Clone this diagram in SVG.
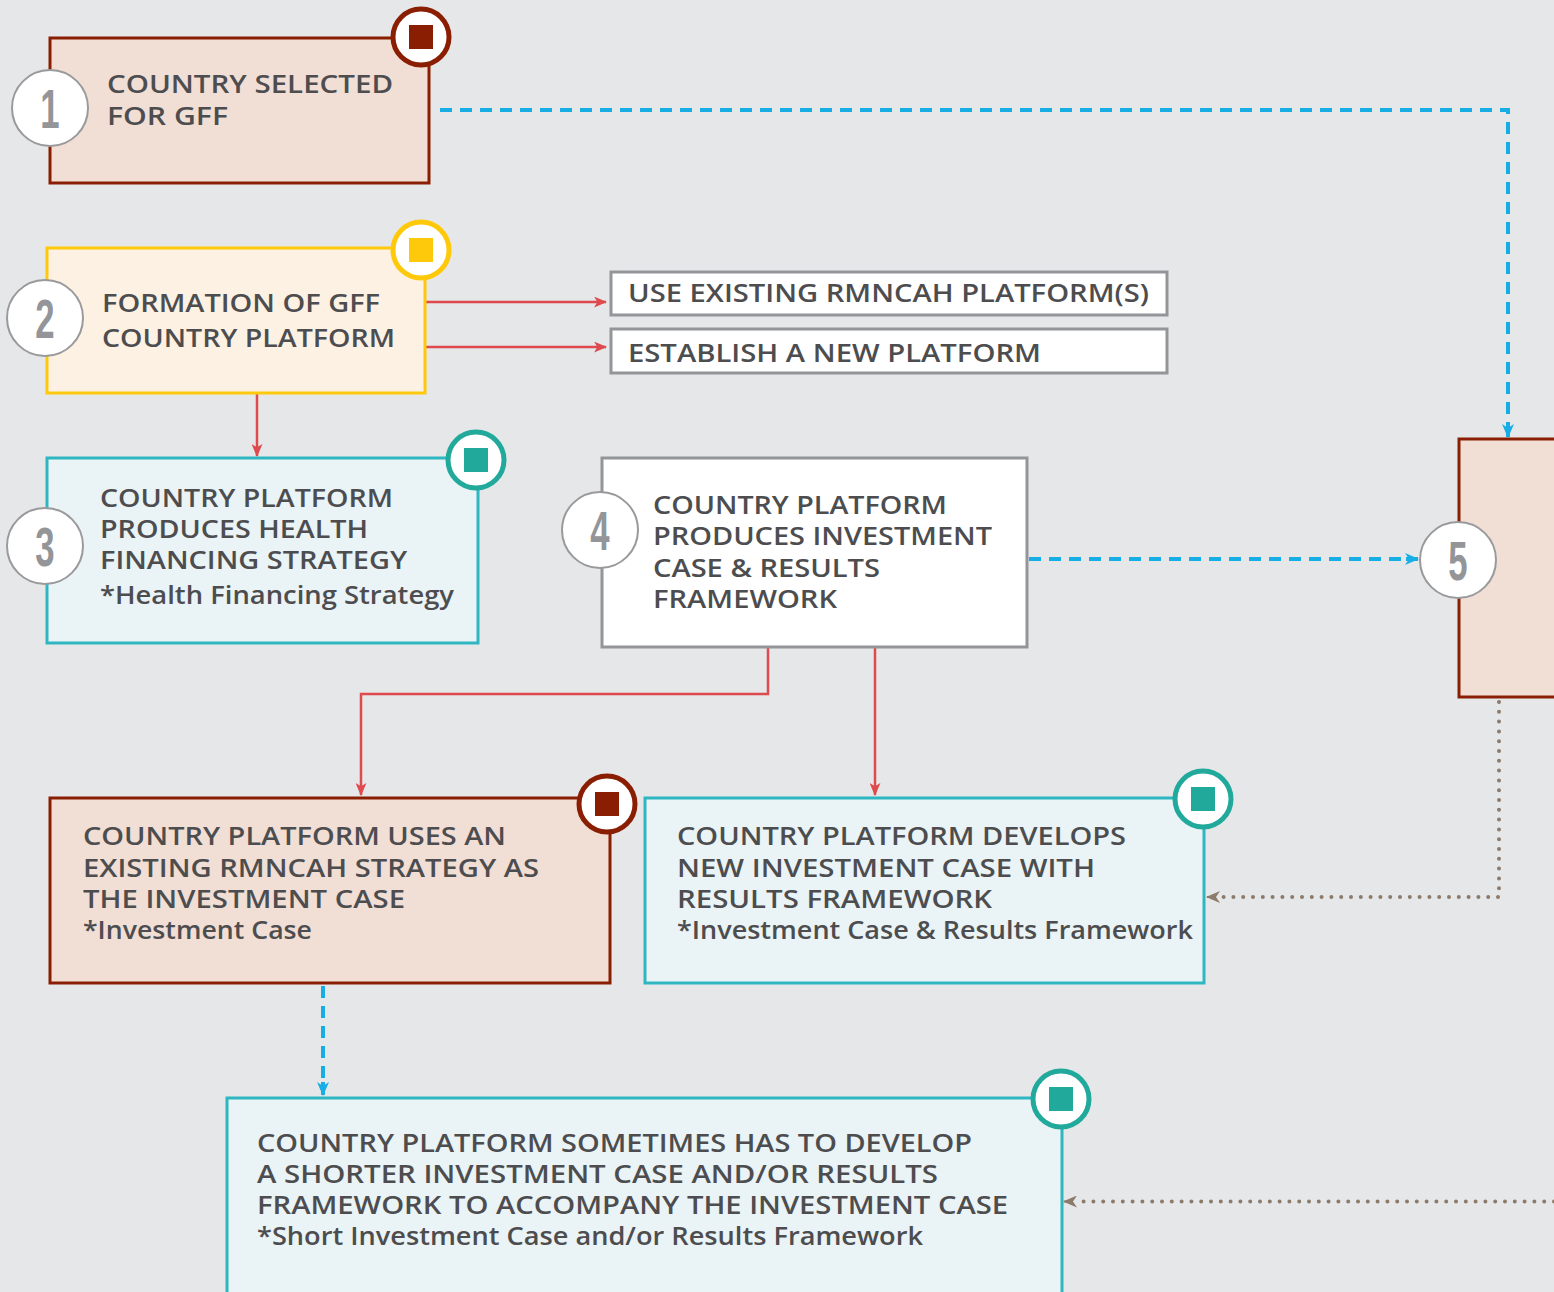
<svg xmlns="http://www.w3.org/2000/svg" width="1554" height="1292" viewBox="0 0 1554 1292">
<defs>
<marker id="arR" viewBox="0 0 12 10" refX="11" refY="5" markerWidth="13" markerHeight="11" markerUnits="userSpaceOnUse" orient="auto">
<path d="M0,0 L12,5 L0,10 L3,5 Z" fill="#de4a4d"/>
</marker>
<marker id="arB" viewBox="0 0 14 12" refX="13" refY="6" markerWidth="14" markerHeight="12" markerUnits="userSpaceOnUse" orient="auto">
<path d="M0,0 L14,6 L0,12 L4,6 Z" fill="#17aee6"/>
</marker>
<marker id="arT" viewBox="0 0 14 12" refX="1" refY="6" markerWidth="14" markerHeight="12" markerUnits="userSpaceOnUse" orient="auto">
<path d="M0,6 L14,0 L10,6 L14,12 Z" fill="#8c7b6b"/>
</marker>
</defs>
<style>
.t{font-family:"Open Sans","Liberation Sans",sans-serif;font-weight:600;fill:#4d4d4f;font-size:25px}
.n{font-family:"Liberation Sans","DejaVu Sans",sans-serif;font-weight:700;fill:#939598;font-size:56px;text-anchor:middle}
.num{fill:#fff;stroke:#9a9a9c;stroke-width:2}
.red{fill:#f1ded5;stroke:#8a1e03;stroke-width:3}
.yel{fill:#fdf1e3;stroke:#ffc90b;stroke-width:3}
.cya{fill:#eaf3f5;stroke:#2fb7c1;stroke-width:3}
.wht{fill:#fff;stroke:#939598;stroke-width:3}
.bR{fill:#fff;stroke:#8a1e03;stroke-width:5}
.bY{fill:#fff;stroke:#ffc90b;stroke-width:5}
.bT{fill:#fff;stroke:#21a99b;stroke-width:5}
.lr{fill:none;stroke:#de4a4d;stroke-width:2.5}
.lb{fill:none;stroke:#17aee6;stroke-width:4;stroke-dasharray:12 8}
.ld{fill:none;stroke:#8c7b6b;stroke-width:4;stroke-dasharray:0 9.8;stroke-linecap:round}
</style>
<rect width="1554" height="1292" fill="#e6e7e8"/>
<g id="connectors">
<path class="lb" d="M440,110 H1508 V426" />
<path d="M1508,426 V437" stroke="#17aee6" stroke-width="4" marker-end="url(#arB)"/>
<path class="lr" d="M426,302 H606" marker-end="url(#arR)"/>
<path class="lr" d="M426,347 H606" marker-end="url(#arR)"/>
<path class="lr" d="M257,394 V456" marker-end="url(#arR)"/>
<path class="lb" d="M1029,559 H1408"/>
<path d="M1406,559 H1418" stroke="#17aee6" stroke-width="4" marker-end="url(#arB)"/>
<path class="lr" d="M768,648 V694 H361 V795" marker-end="url(#arR)"/>
<path class="lr" d="M875,648 V795" marker-end="url(#arR)"/>
<path class="ld" d="M1499,702 V897 H1220"/>
<path d="M1207,897 H1216" stroke="#8c7b6b" stroke-width="2" marker-start="url(#arT)"/>
<path class="lb" d="M323,986 V1084"/>
<path d="M323,1082 V1095" stroke="#17aee6" stroke-width="4" marker-end="url(#arB)"/>
<path class="ld" d="M1554,1201.5 H1076"/>
<path d="M1064,1201.5 H1072" stroke="#8c7b6b" stroke-width="2" marker-start="url(#arT)"/>
</g>
<g id="node1">
<rect class="red" x="50" y="38" width="379" height="145"/>
<circle class="num" cx="50" cy="108" r="38"/>
<text class="n" transform="translate(50,128) scale(0.62,1)">1</text>
<text class="t" font-size="26" x="107" y="93" textLength="286" lengthAdjust="spacingAndGlyphs">COUNTRY SELECTED</text>
<text class="t" font-size="26" x="107" y="125" textLength="121" lengthAdjust="spacingAndGlyphs">FOR GFF</text>
<circle class="bR" cx="421" cy="37" r="28"/>
<rect x="409" y="25" width="24" height="24" fill="#8a1e03"/>
</g>
<g id="node2">
<rect class="yel" x="47" y="248" width="378" height="145"/>
<circle class="num" cx="45" cy="318" r="38"/>
<text class="n" transform="translate(45,338) scale(0.62,1)">2</text>
<text class="t" font-size="26" x="102" y="312" textLength="278" lengthAdjust="spacingAndGlyphs">FORMATION OF GFF</text>
<text class="t" font-size="26" x="102" y="347" textLength="293" lengthAdjust="spacingAndGlyphs">COUNTRY PLATFORM</text>
<circle class="bY" cx="421" cy="250" r="28"/>
<rect x="409" y="238" width="24" height="24" fill="#ffc90b"/>
</g>
<g id="opt1">
<rect class="wht" x="611" y="272" width="556" height="43" stroke-width="2.5"/>
<text class="t" x="628" y="302" textLength="521" lengthAdjust="spacingAndGlyphs">USE EXISTING RMNCAH PLATFORM(S)</text>
</g>
<g id="opt2">
<rect class="wht" x="611" y="329" width="556" height="44" stroke-width="2.5"/>
<text class="t" x="628" y="362" textLength="413" lengthAdjust="spacingAndGlyphs">ESTABLISH A NEW PLATFORM</text>
</g>
<g id="node3">
<rect class="cya" x="47" y="458" width="431" height="185"/>
<circle class="num" cx="45" cy="546" r="38"/>
<text class="n" transform="translate(45,566) scale(0.62,1)">3</text>
<text class="t" font-size="24" x="100" y="507" textLength="293" lengthAdjust="spacingAndGlyphs">COUNTRY PLATFORM</text>
<text class="t" font-size="24" x="100" y="538" textLength="268" lengthAdjust="spacingAndGlyphs">PRODUCES HEALTH</text>
<text class="t" font-size="24" x="100" y="569" textLength="307" lengthAdjust="spacingAndGlyphs">FINANCING STRATEGY</text>
<text class="t" font-size="24" x="100" y="604" textLength="354" lengthAdjust="spacingAndGlyphs">*Health Financing Strategy</text>
<circle class="bT" cx="476" cy="460" r="28"/>
<rect x="464" y="448" width="24" height="24" fill="#21a99b"/>
</g>
<g id="node4">
<rect class="wht" x="602" y="458" width="425" height="189"/>
<circle class="num" cx="600" cy="530" r="38"/>
<text class="n" transform="translate(600,550) scale(0.62,1)">4</text>
<text class="t" x="653" y="514" textLength="294" lengthAdjust="spacingAndGlyphs">COUNTRY PLATFORM</text>
<text class="t" x="653" y="545" textLength="339" lengthAdjust="spacingAndGlyphs">PRODUCES INVESTMENT</text>
<text class="t" x="653" y="577" textLength="227" lengthAdjust="spacingAndGlyphs">CASE &amp; RESULTS</text>
<text class="t" x="653" y="608" textLength="184" lengthAdjust="spacingAndGlyphs">FRAMEWORK</text>
</g>
<g id="node5">
<rect class="red" x="1459" y="439" width="110" height="258"/>
<circle class="num" cx="1458" cy="560" r="38"/>
<text class="n" transform="translate(1458,580) scale(0.62,1)">5</text>
</g>
<g id="node6">
<rect class="red" x="50" y="798" width="560" height="185"/>
<text class="t" x="83" y="845" textLength="423" lengthAdjust="spacingAndGlyphs">COUNTRY PLATFORM USES AN</text>
<text class="t" x="83" y="877" textLength="456" lengthAdjust="spacingAndGlyphs">EXISTING RMNCAH STRATEGY AS</text>
<text class="t" x="83" y="908" textLength="322" lengthAdjust="spacingAndGlyphs">THE INVESTMENT CASE</text>
<text class="t" x="83" y="939" textLength="229" lengthAdjust="spacingAndGlyphs">*Investment Case</text>
<circle class="bR" cx="607" cy="804" r="28"/>
<rect x="595" y="792" width="24" height="24" fill="#8a1e03"/>
</g>
<g id="node7">
<rect class="cya" x="645" y="798" width="559" height="185"/>
<text class="t" x="677" y="845" textLength="449" lengthAdjust="spacingAndGlyphs">COUNTRY PLATFORM DEVELOPS</text>
<text class="t" x="677" y="877" textLength="418" lengthAdjust="spacingAndGlyphs">NEW INVESTMENT CASE WITH</text>
<text class="t" x="677" y="908" textLength="315" lengthAdjust="spacingAndGlyphs">RESULTS FRAMEWORK</text>
<text class="t" x="677" y="939" textLength="516" lengthAdjust="spacingAndGlyphs">*Investment Case &amp; Results Framework</text>
<circle class="bT" cx="1203" cy="799" r="28"/>
<rect x="1191" y="787" width="24" height="24" fill="#21a99b"/>
</g>
<g id="node8">
<rect class="cya" x="227" y="1098" width="835" height="210"/>
<text class="t" x="257" y="1152" textLength="715" lengthAdjust="spacingAndGlyphs">COUNTRY PLATFORM SOMETIMES HAS TO DEVELOP</text>
<text class="t" x="257" y="1183" textLength="681" lengthAdjust="spacingAndGlyphs">A SHORTER INVESTMENT CASE AND/OR RESULTS</text>
<text class="t" x="257" y="1214" textLength="751" lengthAdjust="spacingAndGlyphs">FRAMEWORK TO ACCOMPANY THE INVESTMENT CASE</text>
<text class="t" x="257" y="1245" textLength="666" lengthAdjust="spacingAndGlyphs">*Short Investment Case and/or Results Framework</text>
<circle class="bT" cx="1061" cy="1099" r="28"/>
<rect x="1049" y="1087" width="24" height="24" fill="#21a99b"/>
</g>
</svg>
